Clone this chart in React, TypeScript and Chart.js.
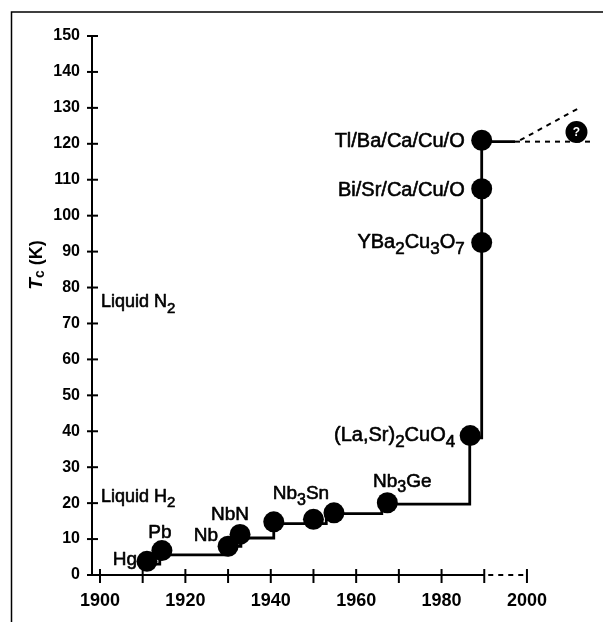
import React, { useEffect, useRef } from 'react';
import { Chart, registerables } from 'chart.js';

Chart.register(...registerables);

// ---- data ----
const pointYears = [1911, 1914.5, 1930, 1932.8, 1940.7, 1950, 1954.8, 1967.3, 1986.7, 1989.4, 1989.4, 1989.4];
const pointTc = [3.8, 6.8, 8.0, 11.3, 14.8, 15.5, 17.3, 20.1, 38.8, 92.5, 107.5, 121];
const pointLabels = ['Hg', 'Pb', 'Nb', 'NbN', '', '', 'Nb_3Sn', 'Nb_3Ge', '(La,Sr)_2CuO_4', 'YBa_2Cu_3O_7', 'Bi/Sr/Ca/Cu/O', 'Tl/Ba/Ca/Cu/O'];

const futureYears = [2011.6];
const futureTc = [123.3];
const futureLabels = ['?'];

const stepYears = [1911, 1914, 1930, 1933, 1940.7, 1953, 1966, 1986.6, 1989.4, 1997.2];
const stepTc = [3, 5.6, 8, 10.3, 14.3, 17.1, 19.7, 38.2, 120.6, 120.6];

const flatDashYears = [1997.2, 2015];
const flatDashTc = [120.6, 120.6];
const riseDashYears = [1998.4, 2012.4];
const riseDashTc = [121, 130.1];

const liquidLabels = ['Liquid N_2', 'Liquid H_2'];
const liquidTc = [74.5, 20.4];

const xTickLabels = [1900, 1920, 1940, 1960, 1980, 2000];
const xTickMarks = [1900, 1910, 1920, 1930, 1940, 1950, 1960, 1970, 1980, 1990, 2000];
const xSolidEnd = 1990;
const yTickMarks = [0, 10, 20, 30, 40, 50, 60, 70, 80, 90, 100, 110, 120, 130, 140, 150];

const X_MIN = 1898.13;
const X_MAX = 2015;

// ---- label placement (style, not data) ----
type Place = { align: 'left' | 'right' | 'center'; dx: number; dy: number; size: number } | null;
const labelPlace: Place[] = [
  { align: 'right', dx: -10, dy: 4, size: 19 },
  { align: 'center', dx: -2, dy: -13, size: 19 },
  { align: 'right', dx: -10, dy: -5, size: 19 },
  { align: 'center', dx: -10, dy: -14, size: 19 },
  null,
  null,
  { align: 'center', dx: -33, dy: -14, size: 19 },
  { align: 'center', dx: 15, dy: -16, size: 19 },
  { align: 'right', dx: -15, dy: 5, size: 20 },
  { align: 'right', dx: -17, dy: 5, size: 20 },
  { align: 'right', dx: -17, dy: 7, size: 20 },
  { align: 'right', dx: -17, dy: 7, size: 20 },
];

const FAM = '"Liberation Sans", Arial, Helvetica, sans-serif';

function parseRich(s: string) {
  const parts: { t: string; sub: boolean }[] = [];
  let buf = '';
  let i = 0;
  while (i < s.length) {
    if (s[i] === '_' && i + 1 < s.length) {
      if (buf) { parts.push({ t: buf, sub: false }); buf = ''; }
      parts.push({ t: s[i + 1], sub: true });
      i += 2;
    } else {
      buf += s[i];
      i += 1;
    }
  }
  if (buf) parts.push({ t: buf, sub: false });
  return parts;
}

function drawRich(ctx: CanvasRenderingContext2D, s: string, x: number, y: number, align: string, size: number, weight = 'normal') {
  const parts = parseRich(s);
  const fontFor = (p: { sub: boolean }) => `${weight} ${p.sub ? Math.round(size * 0.85) : size}px ${FAM}`;
  let total = 0;
  const widths = parts.map((p) => {
    ctx.font = fontFor(p);
    const w = ctx.measureText(p.t).width;
    total += w;
    return w;
  });
  let cx = align === 'right' ? x - total : align === 'center' ? x - total / 2 : x;
  ctx.textAlign = 'left';
  ctx.textBaseline = 'alphabetic';
  ctx.lineWidth = 0.6;
  ctx.lineJoin = 'round';
  parts.forEach((p, i) => {
    ctx.font = fontFor(p);
    const yy = y + (p.sub ? size * 0.3 : 0);
    ctx.fillText(p.t, cx, yy);
    ctx.strokeText(p.t, cx, yy);
    cx += widths[i];
  });
}

const decorPlugin = {
  id: 'decor',
  afterDatasetsDraw(chart: any) {
    const ctx: CanvasRenderingContext2D = chart.ctx;
    const xs = chart.scales.x;
    const ys = chart.scales.y;
    const area = chart.chartArea;
    ctx.save();
    ctx.fillStyle = '#000';
    ctx.strokeStyle = '#000';

    // point labels
    const meta = chart.getDatasetMeta(3);
    pointLabels.forEach((lab, i) => {
      const pl = labelPlace[i];
      if (!lab || !pl) return;
      const el = meta.data[i];
      drawRich(ctx, lab, el.x + pl.dx, el.y + pl.dy, pl.align, pl.size);
    });

    // future point label
    const fmeta = chart.getDatasetMeta(4);
    futureLabels.forEach((lab, i) => {
      const el = fmeta.data[i];
      ctx.fillStyle = '#fff';
      ctx.font = `bold 12px ${FAM}`;
      ctx.textAlign = 'center';
      ctx.textBaseline = 'middle';
      ctx.fillText(lab, el.x, el.y + 1);
    });
    ctx.fillStyle = '#000';

    // liquid labels
    liquidLabels.forEach((lab, i) => {
      drawRich(ctx, lab, area.left + 9, ys.getPixelForValue(liquidTc[i]), 'left', 18);
    });

    // x axis line: solid then dashed
    const yb = area.bottom;
    ctx.lineWidth = 2;
    ctx.beginPath();
    ctx.moveTo(area.left - 1, yb);
    ctx.lineTo(xs.getPixelForValue(xSolidEnd), yb);
    ctx.stroke();
    ctx.setLineDash([5, 5]);
    ctx.beginPath();
    ctx.moveTo(xs.getPixelForValue(xSolidEnd) + 4, yb);
    ctx.lineTo(xs.getPixelForValue(xTickMarks[xTickMarks.length - 1]), yb);
    ctx.stroke();
    ctx.setLineDash([]);

    // x tick marks (crossing)
    ctx.lineWidth = 2;
    xTickMarks.forEach((v) => {
      const px = xs.getPixelForValue(v);
      ctx.beginPath();
      ctx.moveTo(px, yb - 6);
      ctx.lineTo(px, yb + 8);
      ctx.stroke();
    });

    // y tick marks (crossing)
    yTickMarks.forEach((v) => {
      const py = ys.getPixelForValue(v);
      ctx.beginPath();
      ctx.moveTo(area.left - 5, py);
      ctx.lineTo(area.left + 6, py);
      ctx.stroke();
    });

    // y axis title: T_c (K)
    ctx.translate(35, 265);
    ctx.rotate(-Math.PI / 2);
    ctx.textBaseline = 'alphabetic';
    ctx.textAlign = 'left';
    const p1 = `italic bold 19px ${FAM}`;
    const p2 = `bold 14px ${FAM}`;
    const p3 = `bold 18px ${FAM}`;
    ctx.font = p1; const w1 = ctx.measureText('T').width;
    ctx.font = p2; const w2 = ctx.measureText('c').width;
    ctx.font = p3; const w3 = ctx.measureText(' (K)').width;
    let cx = -(w1 + w2 + w3) / 2;
    ctx.font = p1; ctx.fillText('T', cx, 7); cx += w1;
    ctx.font = p2; ctx.fillText('c', cx, 9); cx += w2;
    ctx.font = p3; ctx.fillText(' (K)', cx, 7);
    ctx.restore();

    // frame
    ctx.save();
    ctx.strokeStyle = '#000';
    ctx.lineWidth = 1.5;
    ctx.beginPath();
    ctx.moveTo(11.5, chart.height);
    ctx.lineTo(11.5, 12);
    ctx.lineTo(chart.width, 12);
    ctx.stroke();
    ctx.restore();
  },
};

export default function App() {
  const ref = useRef<HTMLCanvasElement | null>(null);

  useEffect(() => {
    if (!ref.current) return;
    const toXY = (xs: number[], ys: number[]) => xs.map((x, i) => ({ x, y: ys[i] }));
    const chart = new Chart(ref.current, {
      type: 'scatter',
      data: {
        datasets: [
          {
            type: 'line',
            data: toXY(stepYears, stepTc),
            stepped: true,
            borderColor: '#000',
            borderWidth: 2.8,
            pointRadius: 0,
            fill: false,
          } as any,
          {
            type: 'line',
            data: toXY(flatDashYears, flatDashTc),
            borderColor: '#000',
            borderWidth: 2,
            borderDash: [5, 5],
            pointRadius: 0,
            fill: false,
          } as any,
          {
            type: 'line',
            data: toXY(riseDashYears, riseDashTc),
            borderColor: '#000',
            borderWidth: 2,
            borderDash: [5, 5],
            pointRadius: 0,
            fill: false,
          } as any,
          {
            data: toXY(pointYears, pointTc),
            pointRadius: 10.5,
            pointBackgroundColor: '#000',
            pointBorderWidth: 0,
            borderWidth: 0,
            backgroundColor: '#000',
          },
          {
            data: toXY(futureYears, futureTc),
            pointRadius: 11,
            pointBackgroundColor: '#000',
            pointBorderWidth: 0,
            borderWidth: 0,
            backgroundColor: '#000',
          },
        ],
      },
      options: {
        animation: false,
        responsive: false,
        devicePixelRatio: 1,
        maintainAspectRatio: false,
        clip: false as any,
        layout: { padding: { top: 36, right: 12, bottom: 0, left: 0 } },
        plugins: { legend: { display: false }, tooltip: { enabled: false } },
        events: [],
        scales: {
          x: {
            type: 'linear',
            min: X_MIN,
            max: X_MAX,
            grid: { display: false, drawTicks: false },
            border: { display: false },
            afterBuildTicks: (scale: any) => {
              scale.ticks = xTickLabels.map((v) => ({ value: v }));
            },
            afterFit: (scale: any) => {
              scale.height = 47;
            },
            ticks: {
              autoSkip: false,
              maxRotation: 0,
              padding: 15,
              color: '#000',
              font: { family: FAM, size: 18, weight: 'bold' },
              callback: (v: any) => String(v),
            },
          },
          y: {
            type: 'linear',
            min: 0,
            max: 150,
            grid: { display: false, drawTicks: false },
            border: { display: true, color: '#000', width: 2 },
            afterBuildTicks: (scale: any) => {
              scale.ticks = yTickMarks.map((v) => ({ value: v }));
            },
            afterFit: (scale: any) => {
              scale.width = 92;
            },
            ticks: {
              autoSkip: false,
              padding: 12,
              color: '#000',
              font: { family: FAM, size: 16, weight: 'bold' },
              callback: (v: any) => String(v),
            },
          },
        },
      },
      plugins: [decorPlugin],
    } as any);
    return () => chart.destroy();
  }, []);

  return (
    <div style={{ position: 'fixed', left: 0, top: 0, width: 603, height: 622, background: '#fff' }}>
      <canvas ref={ref} width={603} height={622} style={{ display: 'block', width: 603, height: 622 }} />
    </div>
  );
}
